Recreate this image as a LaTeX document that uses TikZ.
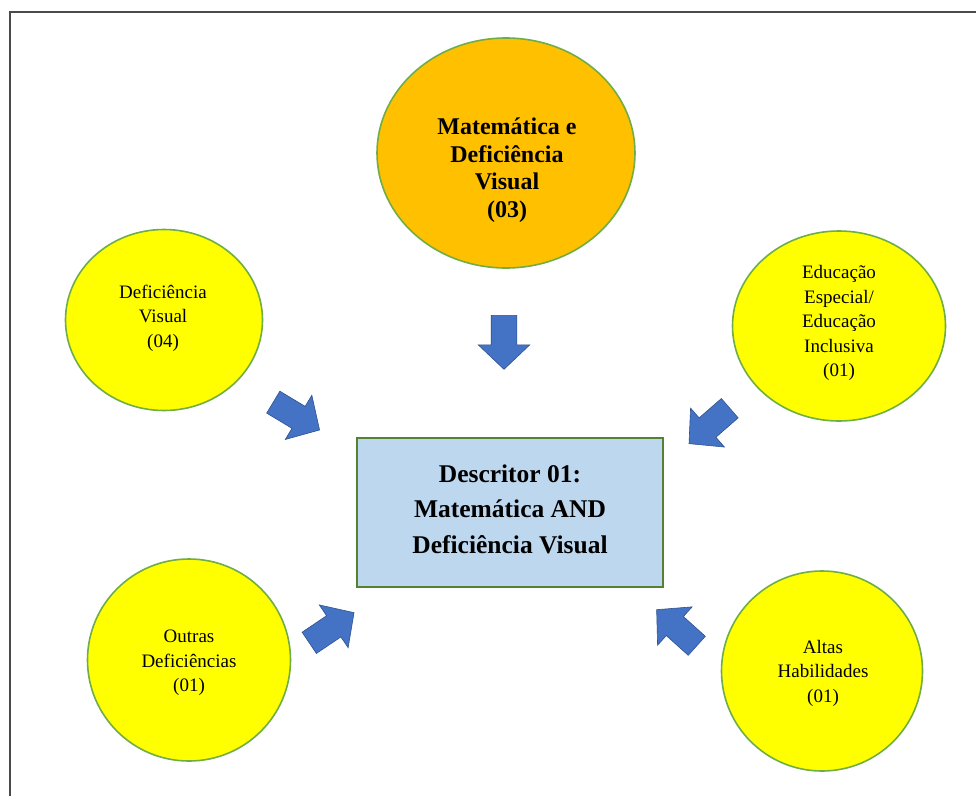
\documentclass[tikz,border=0pt]{standalone}
\usepackage{fontspec}
\setmainfont{Liberation Serif}
\usetikzlibrary{shapes.geometric,shapes.arrows}

\definecolor{framegray}{HTML}{4A4A4A}
\definecolor{ringgreen}{HTML}{70AD47}
\definecolor{boxgreen}{HTML}{548235}
\definecolor{topicyellow}{HTML}{FFFF00}
\definecolor{mainorange}{HTML}{FFC000}
\definecolor{boxblue}{HTML}{BDD7EE}
\definecolor{arrowblue}{HTML}{4472C4}
\definecolor{arrowedge}{HTML}{2F528F}

\begin{document}
\begin{tikzpicture}[x=1pt,y=-1pt,
  topic/.style={ellipse,draw=ringgreen,line width=1.6pt,fill=topicyellow,inner sep=0pt},
  maintopic/.style={topic,fill=mainorange},
  topictext/.style={inner sep=0pt,align=center,font=\fontsize{19}{24.5}\selectfont},
  maintext/.style={inner sep=0pt,align=center,font=\bfseries\fontsize{24}{27.5}\selectfont},
  descbox/.style={draw=boxgreen,line width=1.8pt,fill=boxblue,minimum width=306pt,minimum height=149pt,inner sep=0pt},
  desctext/.style={inner sep=0pt,align=center,font=\bfseries\fontsize{25.5}{35.5}\selectfont},
  blockarrow/.style={single arrow,draw=arrowedge,line width=0.6pt,fill=arrowblue,
    minimum height=54pt,inner xsep=0pt,inner ysep=12.5pt,anchor=tail,
    single arrow head extend=13pt,single arrow tip angle=93}]

\useasboundingbox (0,0) rectangle (976,795);
\fill[white] (0,0) rectangle (976,795);

% outer frame (only its left and top sides fall inside the page)
\draw[framegray,line width=1.6pt] (10,800) -- (10,12) -- (980,12);

% topic circles
\node[maintopic,minimum width=258pt,minimum height=230pt] (mdv) at (506,153) {};
\node[maintext] (mdvtext) at (507,170) {Matemática e\\Deficiência\\Visual\\(03)};

\node[topic,minimum width=197pt,minimum height=181pt] (dv) at (164,320) {};
\node[topictext] (dvtext) at (163,318) {Deficiência\\Visual\\(04)};

\node[topic,minimum width=213pt,minimum height=190pt] (ee) at (839,326) {};
\node[topictext] (eetext) at (839,323) {Educação\\Especial/\\Educação\\Inclusiva\\(01)};

\node[topic,minimum width=203pt,minimum height=202pt] (od) at (189,660) {};
\node[topictext] (odtext) at (189,663) {Outras\\Deficiências\\(01)};

\node[topic,minimum width=201pt,minimum height=200pt] (ah) at (822,671) {};
\node[topictext] (ahtext) at (823,673) {Altas\\Habilidades\\(01)};

% central descriptor
\node[descbox] (desc) at (510,512.5) {};
\node[desctext] (desctxt) at (510,509) {Descritor 01:\\Matemática AND\\Deficiência Visual};

% block arrows pointing at the descriptor, placed by their tails
\node[blockarrow,rotate=-90] (amdv) at (504,315) {};
\node[blockarrow,rotate=-31] (adv) at (273,402) {};
\node[blockarrow,rotate=-139] (aee) at (730,408) {};
\node[blockarrow,rotate=34] (aod) at (309,643) {};
\node[blockarrow,rotate=138] (aah) at (697,646) {};

\end{tikzpicture}
\end{document}
